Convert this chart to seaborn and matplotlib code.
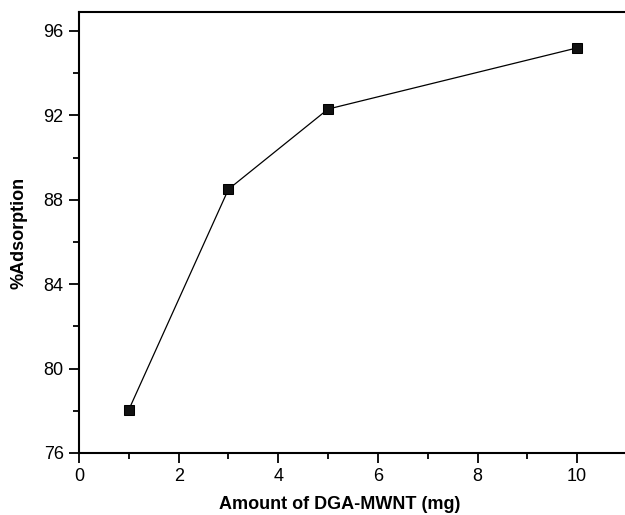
import numpy as np
import pandas as pd
import matplotlib
matplotlib.use("Agg")
import matplotlib.pyplot as plt
import seaborn as sns
from matplotlib.ticker import MultipleLocator

# Data
amount_mg = [1, 3, 5, 10]
adsorption = [78.05, 88.5, 92.3, 95.2]

df = pd.DataFrame({"amount": amount_mg, "adsorption": adsorption})

sns.set_theme(style="ticks")
plt.rcParams["font.family"] = ["Liberation Sans", "DejaVu Sans"]

fig = plt.figure(figsize=(6.25, 5.15), dpi=100)
ax = fig.add_axes([0.1264, 0.1204, 0.8736, 0.8563])

sns.lineplot(data=df, x="amount", y="adsorption", ax=ax, color="black",
             linewidth=0.9, marker="s", markersize=6.5, markeredgecolor="black",
             markerfacecolor="#111111")

ax.set_xlim(0, 10.96)
ax.set_ylim(76, 96.9)
ax.xaxis.set_major_locator(MultipleLocator(2))
ax.xaxis.set_minor_locator(MultipleLocator(1))
ax.yaxis.set_major_locator(MultipleLocator(4))
ax.yaxis.set_minor_locator(MultipleLocator(2))

ax.tick_params(which="major", direction="out", length=7, width=1.3,
               labelsize=13, colors="black", labelcolor="black", pad=4)
ax.tick_params(which="minor", direction="out", length=4, width=1.3, colors="black")

for side in ["left", "bottom", "top"]:
    ax.spines[side].set_linewidth(1.5)
    ax.spines[side].set_color("black")
ax.spines["right"].set_visible(False)

ax.set_xlabel("Amount of DGA-MWNT (mg)", fontsize=13, fontweight="bold", color="black")
ax.set_ylabel("%Adsorption", fontsize=13, fontweight="bold", color="black")
ax.xaxis.set_label_coords(0.478, -0.098)
ax.yaxis.set_label_coords(-0.094, 0.5)

fig.savefig("out.png", dpi=100)
